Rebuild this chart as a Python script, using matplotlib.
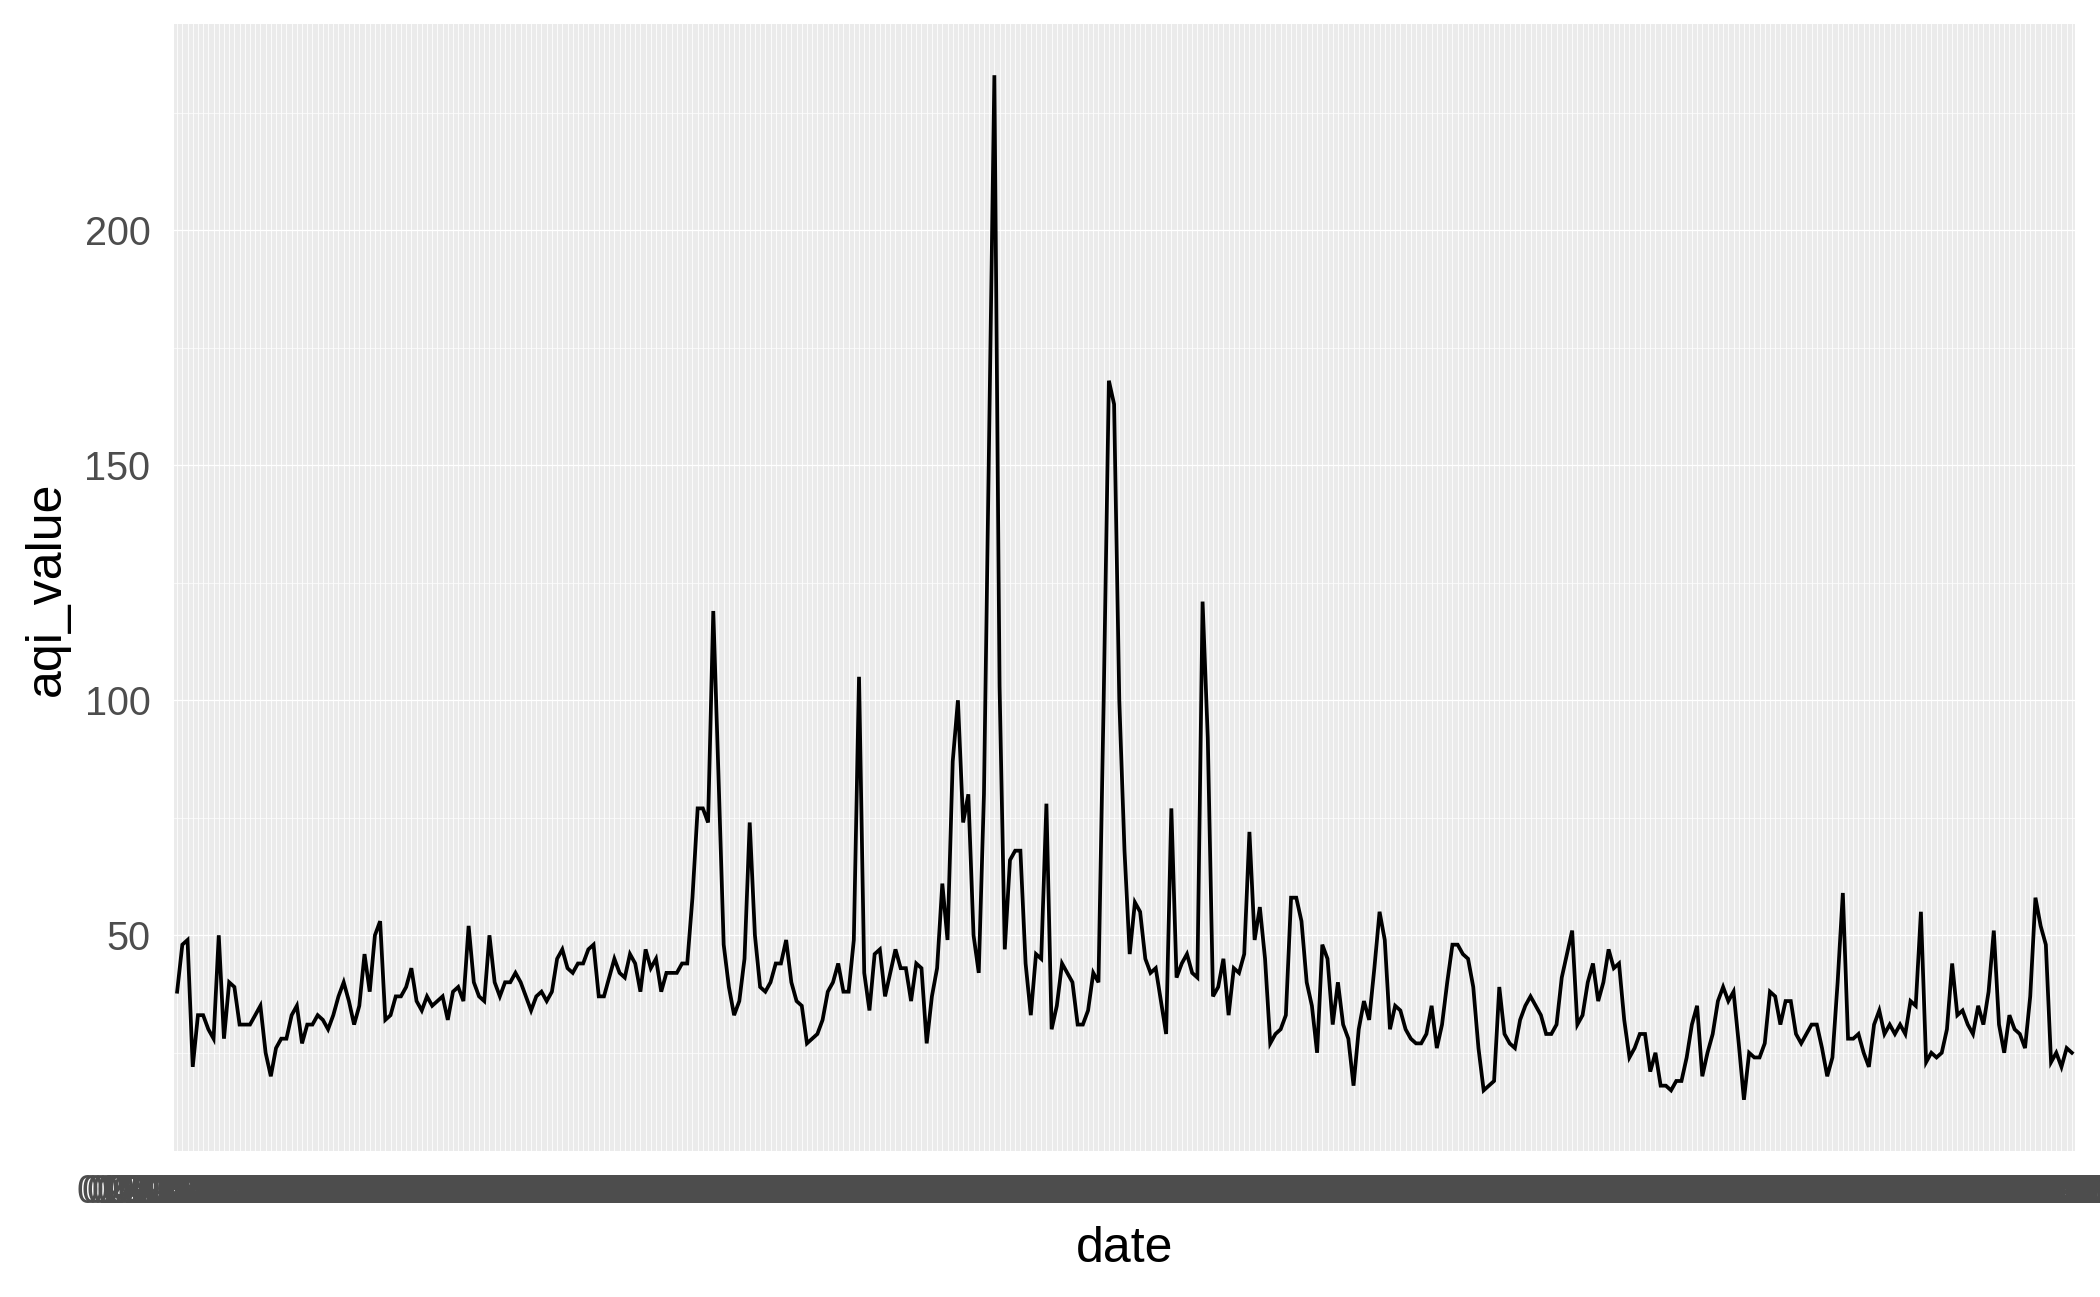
import pandas as pd
import matplotlib
matplotlib.use("Agg")
import matplotlib.pyplot as plt
from matplotlib.ticker import MultipleLocator

# daily AQI values (one per day)
aqi_value = [
    38, 48, 49, 22, 33, 33, 30, 28, 50, 28, 40, 39, 31, 31, 31, 33, 35, 25, 20, 26,
    28, 28, 33, 35, 27, 31, 31, 33, 32, 30, 33, 37, 40, 36, 31, 35, 46, 38, 50, 53,
    32, 33, 37, 37, 39, 43, 36, 34, 37, 35, 36, 37, 32, 38, 39, 36, 52, 40, 37, 36,
    50, 40, 37, 40, 40, 42, 40, 37, 34, 37, 38, 36, 38, 45, 47, 43, 42, 44, 44, 47,
    48, 37, 37, 41, 45, 42, 41, 46, 44, 38, 47, 43, 45, 38, 42, 42, 42, 44, 44, 58,
    77, 77, 74, 119, 84, 48, 39, 33, 36, 45, 74, 50, 39, 38, 40, 44, 44, 49, 40, 36,
    35, 27, 28, 29, 32, 38, 40, 44, 38, 38, 49, 105, 42, 34, 46, 47, 37, 42, 47, 43,
    43, 36, 44, 43, 27, 37, 43, 61, 49, 87, 100, 74, 80, 50, 42, 80, 156, 233, 103, 47,
    66, 68, 68, 44, 33, 46, 45, 78, 30, 35, 44, 42, 40, 31, 31, 34, 42, 40, 100, 168,
    163, 100, 68, 46, 57, 55, 45, 42, 43, 36, 29, 77, 41, 44, 46, 42, 41, 121, 92, 37,
    39, 45, 33, 43, 42, 46, 72, 49, 56, 45, 27, 29, 30, 33, 58, 58, 53, 40, 35, 25,
    48, 45, 31, 40, 31, 28, 18, 30, 36, 32, 43, 55, 49, 30, 35, 34, 30, 28, 27, 27,
    29, 35, 26, 31, 40, 48, 48, 46, 45, 39, 26, 17, 18, 19, 39, 29, 27, 26, 32, 35,
    37, 35, 33, 29, 29, 31, 41, 46, 51, 31, 33, 40, 44, 36, 40, 47, 43, 44, 32, 24,
    26, 29, 29, 21, 25, 18, 18, 17, 19, 19, 24, 31, 35, 20, 25, 29, 36, 39, 36, 38,
    27, 15, 25, 24, 24, 27, 38, 37, 31, 36, 36, 29, 27, 29, 31, 31, 26, 20, 24, 40,
    59, 28, 28, 29, 25, 22, 31, 34, 29, 31, 29, 31, 29, 36, 35, 55, 23, 25, 24, 25,
    30, 44, 33, 34, 31, 29, 35, 31, 38, 51, 31, 25, 33, 30, 29, 26, 37, 58, 52, 48,
    23, 25, 22, 26, 25,
]

# one category per day (discrete x axis)
dates = pd.date_range("2019-01-01", periods=len(aqi_value)).strftime("%d-%m-%Y").tolist()

y_major = [50, 100, 150, 200]

plt.rcParams["font.family"] = ["Liberation Sans", "DejaVu Sans"]

fig = plt.figure(figsize=(21, 12.97), dpi=100)
ax = fig.add_axes([174 / 2100, 1 - 1151 / 1297, (2075 - 174) / 2100, (1151 - 24) / 1297])

ax.set_facecolor("#EBEBEB")
for s in ax.spines.values():
    s.set_visible(False)

ax.plot(dates, aqi_value, color="black", lw=2.7, solid_joinstyle="miter", zorder=3)

# ggplot-like limits: discrete expansion 0.6, continuous 5%
n = len(dates)
ax.set_xlim(-0.6, n - 1 + 0.6)
lo, hi = min(aqi_value), max(aqi_value)
pad = 0.05 * (hi - lo)
ax.set_ylim(lo - pad, hi + pad)

ax.set_yticks(y_major)
ax.yaxis.set_minor_locator(MultipleLocator(25))
ax.grid(which="major", axis="x", color="white", lw=0.6, zorder=1)
ax.grid(which="major", axis="y", color="white", lw=0.9, zorder=1)
ax.grid(which="minor", axis="y", color="white", lw=0.5, zorder=1)
ax.set_axisbelow(True)

ax.tick_params(axis="both", which="both", length=0, labelsize=28.5, labelcolor="#4D4D4D")
ax.tick_params(axis="y", pad=17)
ax.tick_params(axis="x", pad=15.5)

fig.text(1124.5 / 2100, 1 - 1262 / 1297, "date", fontsize=36, ha="center", va="baseline")
fig.text(47 / 2100, 1 - 589 / 1297, "aqi_value", fontsize=36, rotation=90,
         ha="center", va="center")

fig.savefig("out.png", dpi=100, facecolor="white")
